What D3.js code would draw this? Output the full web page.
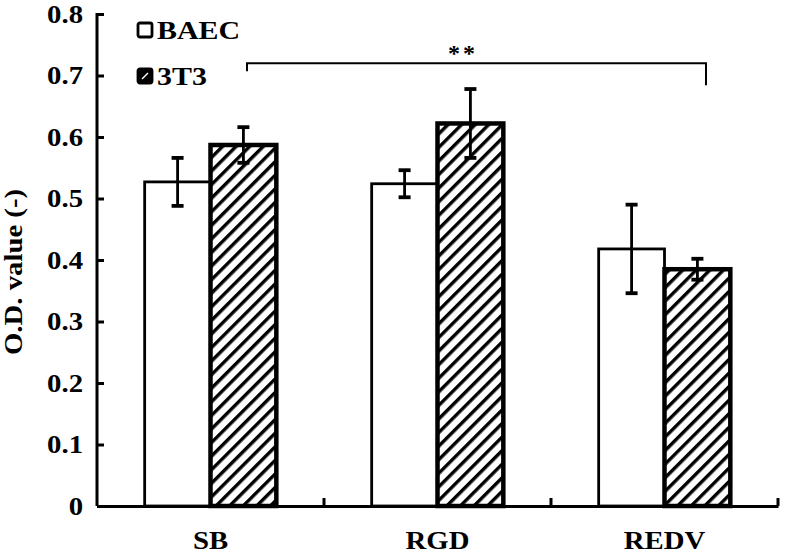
<!DOCTYPE html>
<html>
<head>
<meta charset="utf-8">
<script src="https://cdn.jsdelivr.net/npm/d3@7"></script>
<style>
body { margin: 0; background: #fff; }
svg text { font-family: "Liberation Serif", "Times New Roman", serif; font-weight: bold; fill: #000; }
</style>
</head>
<body>
<div id="chart"></div>
<script>
let categories = ["SB", "RGD", "REDV"];
let seriesNames = ["BAEC", "3T3"];
let baecValues = [0.527, 0.524, 0.418];
let baecErrors = [0.039, 0.022, 0.072];
let t3Values = [0.587, 0.622, 0.385];
let t3Errors = [0.029, 0.056, 0.017];
let yTicks = [0, 0.1, 0.2, 0.3, 0.4, 0.5, 0.6, 0.7, 0.8];

let width = 792, height = 556;
let plotLeft = 97, plotRight = 778, plotTop = 14, plotBottom = 506;
let stretch = 1.15;  // the original type is a bit wider than Liberation Serif

let svg = d3.select("#chart")
    .append("svg")
    .attr("width", width)
    .attr("height", height);

// hatch pattern for 3T3
let defs = svg.append("defs");
defs.append("pattern")
    .attr("id", "hatch")
    .attr("patternUnits", "userSpaceOnUse")
    .attr("width", 9.6)
    .attr("height", 9.6)
    .attr("patternTransform", "rotate(45)")
    .append("rect")
    .attr("x", 0).attr("y", 0)
    .attr("width", 3.4).attr("height", 9.6)
    .attr("fill", "#000");

let x = d3.scaleBand().domain(categories).range([plotLeft, plotRight]);
let y = d3.scaleLinear().domain([0, 0.8]).range([plotBottom, plotTop]);
let barW = x.bandwidth() * 0.29;

let data = [];
categories.forEach((c, i) => {
    data.push({cat: c, s: 0, v: baecValues[i], e: baecErrors[i]});
    data.push({cat: c, s: 1, v: t3Values[i], e: t3Errors[i]});
});

function barX(d) {
    let mid = x(d.cat) + x.bandwidth() / 2;
    return d.s === 0 ? mid - barW : mid;
}

svg.selectAll(".bar")
    .data(data)
    .enter().append("rect")
    .attr("class", "bar")
    .attr("x", d => barX(d))
    .attr("y", d => y(d.v))
    .attr("width", barW)
    .attr("height", d => y(0) - y(d.v))
    .style("fill", d => d.s === 0 ? "#fff" : "url(#hatch)")
    .style("stroke", "#000")
    .style("stroke-width", d => d.s === 0 ? 2.8 : 4.5);

// error bars
let err = svg.selectAll(".err")
    .data(data)
    .enter().append("g")
    .attr("class", "err");
err.append("line")
    .attr("x1", d => barX(d) + barW / 2).attr("x2", d => barX(d) + barW / 2)
    .attr("y1", d => y(d.v + d.e)).attr("y2", d => y(d.v - d.e))
    .style("stroke", "#000").style("stroke-width", 2.8);
err.selectAll(".cap")
    .data(d => [d.v + d.e, d.v - d.e].map(v => ({d: d, v: v})))
    .enter().append("line")
    .attr("x1", c => barX(c.d) + barW / 2 - 6).attr("x2", c => barX(c.d) + barW / 2 + 6)
    .attr("y1", c => y(c.v)).attr("y2", c => y(c.v))
    .style("stroke", "#000").style("stroke-width", 3.8);

// y axis, ticks point inward
let yAxis = svg.append("g")
    .attr("transform", "translate(" + plotLeft + ",0)")
    .call(d3.axisLeft(y).tickValues(yTicks).tickSize(-7).tickPadding(14)
        .tickFormat(d => d === 0 ? "0" : d3.format(".1f")(d)));
yAxis.select(".domain").attr("d", "M0," + (plotTop - 1) + "V" + plotBottom)
    .style("stroke-width", 3);
yAxis.selectAll(".tick line").style("stroke-width", 3);
yAxis.selectAll(".tick text").style("font-size", "25px");

// x axis
let xAxis = svg.append("g")
    .attr("transform", "translate(0," + plotBottom + ")")
    .call(d3.axisBottom(x).tickSize(0).tickPadding(25));
xAxis.select(".domain").style("stroke-width", 3);
xAxis.selectAll(".tick text").style("font-size", "25px");
xAxis.selectAll(".sep")
    .data(categories)
    .enter().append("line")
    .attr("x1", d => x(d) + x.bandwidth()).attr("x2", d => x(d) + x.bandwidth())
    .attr("y1", 0).attr("y2", -8)
    .style("stroke", "#000").style("stroke-width", 3);

// y label
svg.append("text")
    .attr("transform", "translate(22," + 272 + ") rotate(-90)")
    .attr("text-anchor", "middle")
    .style("font-size", "25px")
    .text("O.D. value (-)");

// significance bracket
let bx1 = 247, bx2 = 706, by = y(0.72);
svg.append("path")
    .attr("d", "M" + bx1 + "," + (by + 8) + "V" + by + "H" + bx2 + "V" + (by + 22))
    .style("fill", "none").style("stroke", "#000").style("stroke-width", 2);
svg.append("text")
    .attr("x", 463)
    .attr("y", by - 2)
    .attr("text-anchor", "middle")
    .style("font-size", "24px")
    .style("letter-spacing", "3px")
    .text("**");

// legend
let legend = svg.selectAll(".legend")
    .data(seriesNames)
    .enter().append("g")
    .attr("transform", (d, i) => "translate(138," + (23 + i * 46) + ")");
legend.append("rect")
    .attr("width", 14).attr("height", 14)
    .attr("rx", 2)
    .style("fill", (d, i) => i === 0 ? "#fff" : "#000")
    .style("stroke", "#000").style("stroke-width", 2.8);
legend.filter((d, i) => i === 1).append("path")
    .attr("d", "M4,10L10,4")
    .style("stroke", "#fff").style("stroke-width", 1.5);
legend.append("text")
    .attr("x", 19).attr("y", 16)
    .style("font-size", "26px")
    .text(d => d);

// widen all labels a little
svg.selectAll("text").filter(function() { return this.textContent !== "**"; })
    .each(function() {
        let len = this.getComputedTextLength();
        d3.select(this)
            .attr("textLength", len * stretch)
            .attr("lengthAdjust", "spacingAndGlyphs");
    });
</script>
</body>
</html>
